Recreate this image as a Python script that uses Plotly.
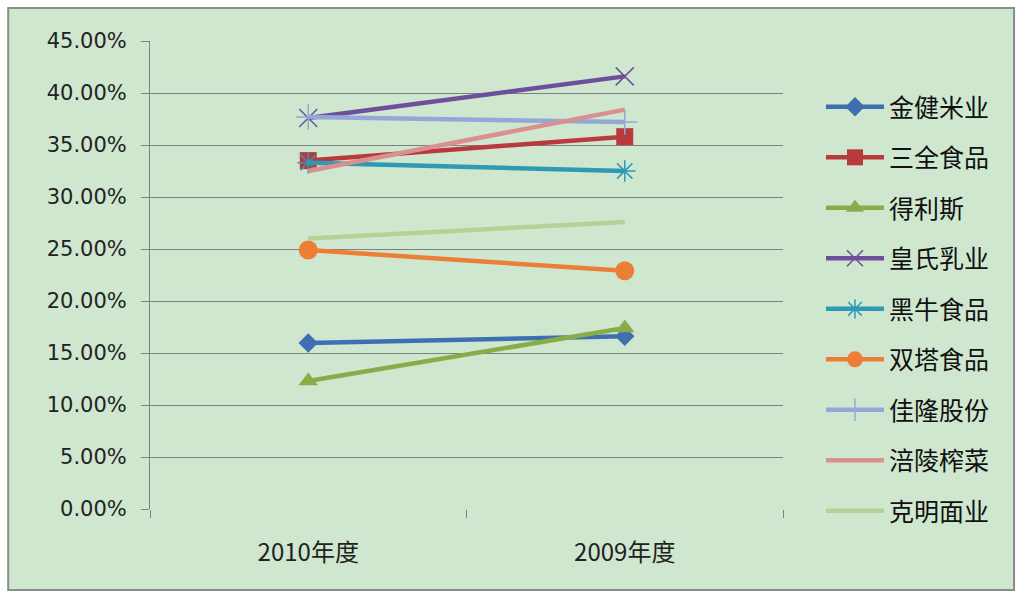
import plotly.graph_objects as go

categories = ["2010年度", "2009年度"]
series_names = ["金健米业", "三全食品", "得利斯", "皇氏乳业", "黑牛食品", "双塔食品", "佳隆股份", "涪陵榨菜", "克明面业"]
jinjian = [0.1596, 0.1660]
sanquan = [0.3350, 0.3580]
delisi = [0.1230, 0.1740]
huangshi = [0.3760, 0.4160]
heiniu = [0.3330, 0.3250]
shuangta = [0.2490, 0.2290]
jialong = [0.3770, 0.3720]
fuling = [0.3250, 0.3840]
keming = [0.2600, 0.2760]
y_ticks = [0, 0.05, 0.10, 0.15, 0.20, 0.25, 0.30, 0.35, 0.40, 0.45]
y_tick_labels = ["0.00%", "5.00%", "10.00%", "15.00%", "20.00%", "25.00%", "30.00%", "35.00%", "40.00%", "45.00%"]

values = [jinjian, sanquan, delisi, huangshi, heiniu, shuangta, jialong, fuling, keming]
colors = ["#3f6fb0", "#b93a3e", "#8aab4a", "#6e4f9a", "#2e9ab5", "#ec7f35", "#93a8d8", "#d9908f", "#b8d097"]
markers = [
    dict(symbol="diamond", size=15),
    dict(symbol="square", size=17),
    dict(symbol="triangle-up", size=17),
    dict(symbol="x-thin-open", size=18, line=dict(width=1.5, color="#7a8aa8")),
    dict(symbol="asterisk-open", size=18, line=dict(width=1.5, color="#4aa0b8")),
    dict(symbol="circle", size=19),
    dict(symbol="cross-thin-open", size=18, line=dict(width=1.5, color="#93a8d8")),
    None,
    None,
]

fig = go.Figure()
for i, (name, vals) in enumerate(zip(series_names, values)):
    m = markers[i]
    mode = "lines+markers" if m else "lines"
    mk = dict(m) if m else {}
    if m and "line" not in mk:
        mk["color"] = colors[i]
    fig.add_trace(go.Scatter(
        x=categories, y=vals, name=name, mode=mode,
        line=dict(color=colors[i], width=4.5),
        marker=mk if m else None,
        legendgroup=name,
    ))

fig.add_shape(type="rect", xref="paper", yref="paper",
              x0=-0.224, x1=1.365, y0=-0.173, y1=1.0705,
              line=dict(color="#8c8c8c", width=2), fillcolor="#cfe7cf", layer="below")

fig.update_layout(
    width=1019, height=595,
    margin=dict(l=150, r=236, t=41, b=86),
    paper_bgcolor="white",
    plot_bgcolor="#cfe7cf",
    showlegend=True,
    legend=dict(
        x=1.06, y=0.908, xanchor="left", yanchor="top",
        font=dict(family="Noto Sans CJK SC", size=25, color="#111111"),
        tracegroupgap=15, bgcolor="rgba(0,0,0,0)", itemwidth=58,
    ),
    xaxis=dict(
        type="category", range=[-0.5, 1.5],
        tickson="boundaries", ticks="outside", ticklen=8, tickcolor="#808080",
        showgrid=False, showline=False, zeroline=False,
        ticklabelstandoff=27,
        tickfont=dict(family="Noto Sans CJK SC", size=24, color="#222222"),
    ),
    yaxis=dict(
        range=[0, 0.45], tickvals=y_ticks, ticktext=y_tick_labels,
        ticks="outside", ticklen=8, tickcolor="#808080",
        showgrid=True, gridcolor="#808080", gridwidth=1,
        showline=True, linecolor="#808080", linewidth=1,
        zeroline=False, ticklabelstandoff=10,
        tickfont=dict(family="DejaVu Sans", size=21, color="#222222"),
    ),
)

fig.write_html("out.html")
